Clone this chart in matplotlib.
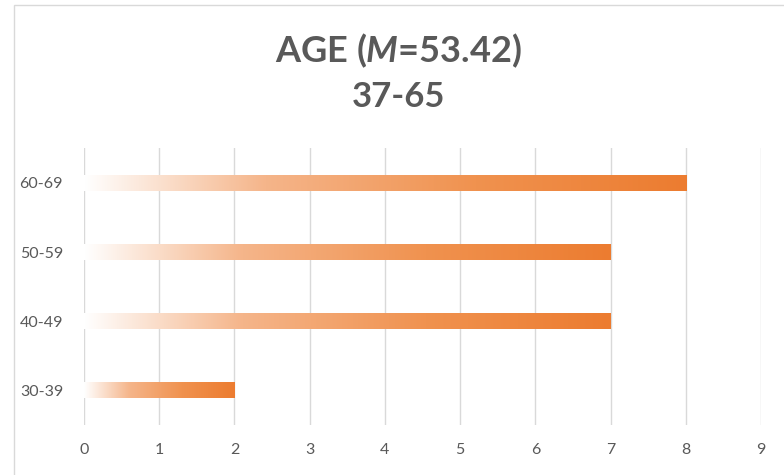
import numpy as np
import matplotlib.pyplot as plt
from matplotlib.colors import LinearSegmentedColormap
from matplotlib.patches import Rectangle

categories = ['30-39', '40-49', '50-59', '60-69']
counts = [2, 7, 7, 8]
title_line1 = r'AGE ($M$=53.42)'
title_line2 = '37-65'

plt.rcParams['font.family'] = ['Lato', 'DejaVu Sans']
plt.rcParams['mathtext.fontset'] = 'custom'
plt.rcParams['mathtext.it'] = 'Lato:italic:bold'
plt.rcParams['mathtext.rm'] = 'Lato:bold'

fig = plt.figure(figsize=(7.84, 4.75), dpi=100)
ax = fig.add_axes([0.107, 0.105, 0.864, 0.583])

# white -> orange gradient, like the Excel fill
cmap = LinearSegmentedColormap.from_list(
    'fade', [(0, '#ffffff'), (0.3, '#f5b58a'), (0.65, '#f0924f'), (1, '#ec7c30')])
grad = np.linspace(0, 1, 256).reshape(1, -1)
bar_h = 0.23

for i, v in enumerate(counts):
    ax.imshow(grad, cmap=cmap, aspect='auto', interpolation='bilinear',
              extent=[0, v, i - bar_h / 2, i + bar_h / 2], zorder=2)

ax.set_xlim(0, 9)
ax.set_ylim(-0.5, 3.5)
ax.set_xticks(range(10))
ax.set_yticks(range(len(categories)))
ax.set_yticklabels(categories)
ax.grid(axis='x', color='#d9d9d9', linewidth=1, zorder=0)
ax.axvline(0, color='#bfbfbf', linewidth=1.3, zorder=1)
for s in ax.spines.values():
    s.set_visible(False)
ax.tick_params(length=0, labelsize=11.5, labelcolor='#595959')
ax.tick_params(axis='x', pad=13)
ax.tick_params(axis='y', pad=15)

fig.text(0.508, 0.893, title_line1, ha='center', va='center',
         fontsize=26, fontweight='bold', color='#595959')
fig.text(0.508, 0.796, title_line2, ha='center', va='center',
         fontsize=25, fontweight='bold', color='#595959')

fig.patches.append(Rectangle((0.018, -0.01), 1.0, 1.0, transform=fig.transFigure,
                             fill=False, edgecolor='#d9d9d9', linewidth=1))

fig.savefig('out.png', dpi=100)
